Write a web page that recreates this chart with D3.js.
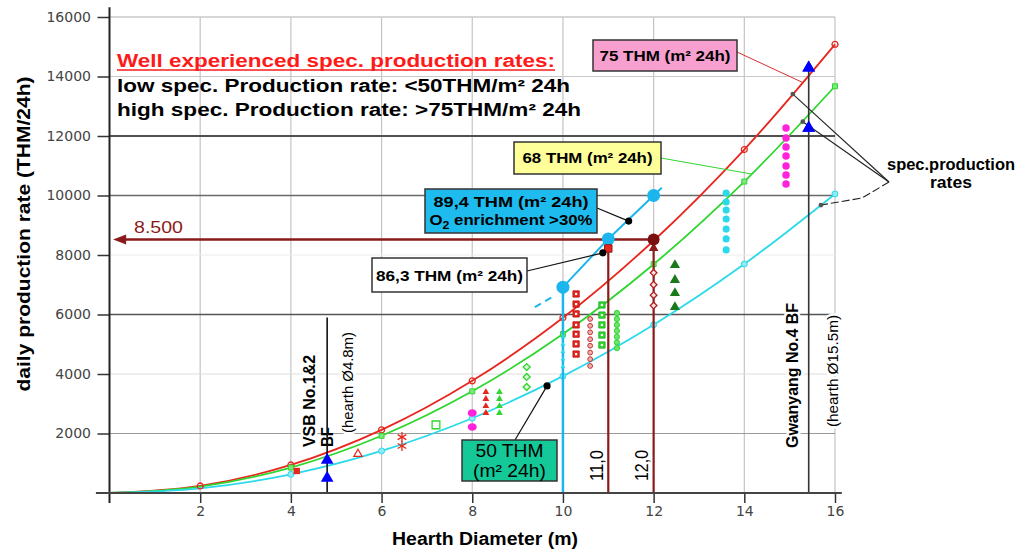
<!DOCTYPE html>
<html><head><meta charset="utf-8">
<script src="https://cdn.jsdelivr.net/npm/d3@7"></script>
<style>body{margin:0;background:#fff;} svg{display:block;}</style>
</head><body><svg id="c" width="1019" height="550"></svg>
<script>
// ---------- data ----------
const diameters = [0, 2, 4, 6, 8, 10, 12, 14, 16];
const rate75 = [0, 236, 942, 2120, 3770, 5890, 8480, 11545, 15080];
const rate68 = [0, 214, 855, 1923, 3418, 5341, 7690, 10468, 13672];
const rate50 = [0, 157, 628, 1414, 2513, 3927, 5655, 7697, 10053];
const xTicks = [2, 4, 6, 8, 10, 12, 14, 16];
const yTicks = [2000, 4000, 6000, 8000, 10000, 12000, 14000, 16000];

const o2LineX = [10, 11, 12, 12.18];
const o2LineY = [6920, 8540, 10000, 10260];
const o2DashX = [9.38, 9.8];
const o2DashY = [6250, 6620];
const o2CirclesX = [10, 11, 12];
const o2CirclesY = [6920, 8540, 10000];

const targetRate = 8520;      // 8.500 arrow
const targetDiams = [11, 12];
const vsbDiam = 4.8, vsbTop = 5900;
const gwDiam = 15.42, gwTop = 14290;

const blueTriangles = [[4.8, 1110], [4.8, 500], [15.42, 14290], [15.42, 12270]];
const redSmallSquare = [[4.13, 740]];
const redOpenTriangle = [[5.48, 1310]];
const redAsterisks = [[6.45, 1880], [6.45, 1580]];
const greenOpenSquare = [[7.2, 2290]];
const magentaBig = [[8, 2690], [8, 2220]];
const redTriX = 8.3, redTriY = [3390, 3160, 2920, 2690];
const greenTriX = 8.6, greenTriY = [3390, 3160, 2920, 2690];
const greenDiamX = 9.2, greenDiamY = [4235, 3900, 3563];
const cyanTriX = 10, cyanTriY = [5250, 5000, 4750, 4500, 4250];
const redSqX = 10.29, redSqY = [6690, 6350, 6020, 5650, 5340, 5010, 4670];
const darkRingX = 10.6, darkRingY = [5850, 5620, 5400, 5170, 4950, 4720, 4500, 4270];
const greenSqX = 10.86, greenSqY = [6320, 5980, 5650, 5310, 4975];
const greenRingX = 11.19, greenRingY = [6050, 5850, 5650, 5450, 5250, 5060, 4870];
const darkDiamX = 12, darkDiamY = [7400, 7000, 6650, 6300];
const darkGreenTriX = 12.47, darkGreenTriY = [7660, 7160, 6720, 6250];
const cyanDotX = 13.6, cyanDotY = [10080, 9780, 9510, 9210, 8870, 8540, 8170];
const magentaX = 14.92, magentaY = [12270, 11930, 11630, 11330, 10990, 10690, 10390];
const redSquare11 = [[11, 8220]];
const darkTri12 = [[12, 8230]];
const blackDots = [[11.45, 9140], [10.88, 8070], [9.65, 3600]];
const grayDots = [[15.07, 13410], [15.29, 12480], [15.69, 9680]];
const conn75 = [15.3, 13790];
const conn68 = [14.17, 10720];

// ---------- setup ----------
const svg = d3.select('#c');
const x = d3.scaleLinear().domain([0, 16]).range([109.5, 835]);
const y = d3.scaleLinear().domain([0, 16000]).range([493, 17]);
const SANS = 'Liberation Sans, Arial, sans-serif';

// grid
const gridColor = {2000:'#9a9a9a',4000:'#dddddd',6000:'#555',8000:'#ececec',10000:'#6a6a6a',12000:'#505050',14000:'#c8c8c8',16000:'#c8c8c8'};
const gridWidth = {2000:1,4000:1,6000:1.5,8000:1,10000:1.5,12000:2,14000:1.2,16000:1.5};
const grid = svg.append('g');
grid.selectAll('line.v').data(xTicks).join('line')
  .attr('x1', d => x(d)).attr('x2', d => x(d)).attr('y1', y(16000)).attr('y2', y(0))
  .attr('stroke', '#c4c4c4').attr('stroke-width', 1.2);
grid.selectAll('line.h').data(yTicks).join('line')
  .attr('x1', x(0)).attr('x2', x(16)).attr('y1', d => y(d)).attr('y2', d => y(d))
  .attr('stroke', d => gridColor[d]).attr('stroke-width', d => gridWidth[d]);

// helpers
function label(p, o) {
  const t = p.append('text')
    .attr('font-family', o.family || SANS).attr('font-size', o.size || 15)
    .attr('font-weight', o.weight || 'bold').attr('fill', o.fill || '#000')
    .attr('text-anchor', o.anchor || 'start');
  if (o.rotate) t.attr('transform', `translate(${o.x},${o.y}) rotate(-90)`);
  else t.attr('x', o.x).attr('y', o.y);
  if (o.len) t.attr('textLength', o.len).attr('lengthAdjust', 'spacingAndGlyphs');
  if (o.halo) t.attr('stroke', '#fff').attr('stroke-width', 5).attr('paint-order', 'stroke').attr('stroke-linejoin', 'round');
  t.text(o.text);
  return t;
}
function pts(list, type, size, fill, stroke, sw, rot) {
  svg.append('g').selectAll('path').data(list).join('path')
    .attr('transform', d => `translate(${x(d[0])},${y(d[1])})` + (rot ? ` rotate(${rot})` : ''))
    .attr('d', d3.symbol().type(type).size(size))
    .attr('fill', fill).attr('stroke', stroke || 'none').attr('stroke-width', sw || 1);
}
const col = (xv, ys) => ys.map(v => [xv, v]);

// rotated labels with halo (drawn early so halos cut gridlines only)
const labs = svg.append('g');
label(labs, {x: 315, y: 447, text: 'VSB No.1&2', size: 16, len: 92, rotate: true, halo: true});
label(labs, {x: 353, y: 433, text: '(hearth Ø4.8m)', size: 15, weight: 'normal', len: 101, rotate: true, halo: true});
label(labs, {x: 798, y: 448, text: 'Gwanyang No.4 BF', size: 16, len: 145, rotate: true, halo: true});
label(labs, {x: 838, y: 427, text: '(hearth Ø15.5m)', size: 15, weight: 'normal', len: 112, rotate: true, halo: true});
label(labs, {x: 603, y: 481, text: '11,0', size: 18, weight: 'normal', len: 31, rotate: true, halo: true});
label(labs, {x: 648, y: 481, text: '12,0', size: 18, weight: 'normal', len: 31, rotate: true, halo: true});

// curves
const line = d3.line().x(d => x(d[0])).y(d => y(d[1])).curve(d3.curveCatmullRom);
const series = [
  {vals: rate75, color: '#e8261e'},
  {vals: rate68, color: '#2fd62f'},
  {vals: rate50, color: '#2bd9ea'}
];
series.forEach(s => {
  svg.append('path').attr('d', line(diameters.map((d, i) => [d, s.vals[i]])))
    .attr('fill', 'none').attr('stroke', s.color).attr('stroke-width', 1.8);
});
// curve markers
pts(diameters.slice(1).map((d, i) => [d, rate75[i + 1]]), d3.symbolCircle, 28, 'none', '#e8261e', 1.3);
pts(diameters.slice(2).map((d, i) => [d, rate68[i + 2]]), d3.symbolSquare, 25, '#7be87b', '#2fd62f', 1);
pts(diameters.slice(2).map((d, i) => [d, rate50[i + 2]]), d3.symbolCircle, 28, '#8eeaf3', '#2bd9ea', 1);

// vertical reference lines
svg.append('line').attr('x1', x(vsbDiam)).attr('x2', x(vsbDiam)).attr('y1', y(vsbTop)).attr('y2', y(0))
  .attr('stroke', '#111').attr('stroke-width', 1.6);
svg.append('line').attr('x1', x(gwDiam)).attr('x2', x(gwDiam)).attr('y1', y(gwTop)).attr('y2', y(0))
  .attr('stroke', '#333').attr('stroke-width', 1.6);
label(labs, {x: 333, y: 447, text: 'BF', size: 16, len: 20, rotate: true});

// O2 line
svg.append('line').attr('x1', x(10)).attr('x2', x(10)).attr('y1', y(o2LineY[0])).attr('y2', y(0))
  .attr('stroke', '#1cb5ee').attr('stroke-width', 2.5);
const lin = d3.line().x(d => x(d[0])).y(d => y(d[1]));
svg.append('path').attr('d', lin(o2LineX.map((d, i) => [d, o2LineY[i]])))
  .attr('fill', 'none').attr('stroke', '#1cb5ee').attr('stroke-width', 2);
svg.append('path').attr('d', lin(o2DashX.map((d, i) => [d, o2DashY[i]])))
  .attr('fill', 'none').attr('stroke', '#1cb5ee').attr('stroke-width', 2).attr('stroke-dasharray', '7,5');

// dark red target lines
targetDiams.forEach(dv => {
  svg.append('line').attr('x1', x(dv)).attr('x2', x(dv)).attr('y1', y(targetRate)).attr('y2', y(0))
    .attr('stroke', '#8b1a1a').attr('stroke-width', 2.2);
});
svg.append('line').attr('x1', x(12)).attr('x2', x(0.3)).attr('y1', y(targetRate)).attr('y2', y(targetRate))
  .attr('stroke', '#8b1a1a').attr('stroke-width', 2.5);
svg.append('path')
  .attr('d', `M${x(0.08)},${y(targetRate)} l13,-5 l0,10 z`)
  .attr('fill', '#8b1a1a');
label(svg, {x: 134, y: 233, text: '8.500', size: 17, weight: 'normal', fill: '#8b1a1a', len: 49});

// scatter markers
pts(redSmallSquare, d3.symbolSquare, 40, '#e8261e');
pts(redOpenTriangle, d3.symbolTriangle, 30, 'none', '#e8261e', 1.2);
const ast = svg.append('g');
redAsterisks.forEach(p => {
  const cx = x(p[0]), cy = y(p[1]);
  [0, 60, 120].forEach(a => {
    const r = 5, ra = a * Math.PI / 180;
    ast.append('line').attr('x1', cx - r * Math.sin(ra)).attr('y1', cy - r * Math.cos(ra))
      .attr('x2', cx + r * Math.sin(ra)).attr('y2', cy + r * Math.cos(ra))
      .attr('stroke', '#e8261e').attr('stroke-width', 1.3);
  });
});
pts(greenOpenSquare, d3.symbolSquare, 60, 'none', '#2fd62f', 1.3);
svg.append('g').selectAll('ellipse').data(magentaBig).join('ellipse')
  .attr('cx', d => x(d[0])).attr('cy', d => y(d[1])).attr('rx', 4.5).attr('ry', 3.8).attr('fill', '#ff22dd');
pts(col(redTriX, redTriY), d3.symbolTriangle, 20, '#e8261e');
pts(col(greenTriX, greenTriY), d3.symbolTriangle, 20, '#2fd62f');
pts(col(greenDiamX, greenDiamY), d3.symbolSquare, 24, '#d8f8d8', '#2fd62f', 1.3, 45);
pts(col(cyanTriX, cyanTriY), d3.symbolTriangle, 10, '#2bd9ea');
pts(col(redSqX, redSqY), d3.symbolSquare, 40, '#e8261e', '#c01010', 0.8);
pts(col(redSqX, redSqY), d3.symbolSquare, 5, '#fff');
pts(col(darkRingX, darkRingY), d3.symbolCircle, 18, '#f2b0b0', '#c03030', 1);
pts(col(greenSqX, greenSqY), d3.symbolSquare, 40, '#2fd62f', '#20b020', 0.8);
pts(col(greenSqX, greenSqY), d3.symbolSquare, 5, '#fff');
pts(col(greenRingX, greenRingY), d3.symbolCircle, 22, '#6de46d', '#2fd62f', 1);
pts(col(darkDiamX, darkDiamY), d3.symbolSquare, 22, '#fbe0e0', '#b02020', 1.3, 45);
pts(col(darkGreenTriX, darkGreenTriY), d3.symbolTriangle, 45, '#1a7a1a');
pts(col(cyanDotX, cyanDotY), d3.symbolCircle, 40, '#2bd9ea');
pts(col(magentaX, magentaY), d3.symbolCircle, 44, '#ff22dd');
pts(blueTriangles, d3.symbolTriangle, 70, '#0000ff');
svg.append('g').selectAll('circle').data(o2CirclesX.map((d, i) => [d, o2CirclesY[i]])).join('circle')
  .attr('cx', d => x(d[0])).attr('cy', d => y(d[1])).attr('r', 6.5).attr('fill', '#1cb5ee');
pts(redSquare11, d3.symbolSquare, 55, '#e8261e', '#8b1a1a', 1);
pts(darkTri12, d3.symbolTriangle, 40, '#8b1a1a');
svg.append('circle').attr('cx', x(12)).attr('cy', y(targetRate)).attr('r', 6).attr('fill', '#7a1010');

// connectors
const conn = svg.append('g');
conn.append('line').attr('x1', 737).attr('y1', 52).attr('x2', x(conn75[0])).attr('y2', y(conn75[1]))
  .attr('stroke', '#d83030').attr('stroke-width', 1);
conn.append('line').attr('x1', 661).attr('y1', 158).attr('x2', x(conn68[0])).attr('y2', y(conn68[1]))
  .attr('stroke', '#2fd62f').attr('stroke-width', 1);
const boxAnchors = [[597, 208], [527, 271], [515, 440]];
blackDots.forEach((d, i) => {
  conn.append('line').attr('x1', boxAnchors[i][0]).attr('y1', boxAnchors[i][1])
    .attr('x2', x(d[0])).attr('y2', y(d[1])).attr('stroke', '#111').attr('stroke-width', 1.2);
});
pts(blackDots, d3.symbolCircle, 40, '#000');
const apex = [889, 182];
conn.append('line').attr('x1', apex[0]).attr('y1', apex[1]).attr('x2', x(grayDots[0][0])).attr('y2', y(grayDots[0][1]))
  .attr('stroke', '#222').attr('stroke-width', 1.1);
conn.append('line').attr('x1', apex[0]).attr('y1', apex[1]).attr('x2', x(grayDots[1][0])).attr('y2', y(grayDots[1][1]))
  .attr('stroke', '#222').attr('stroke-width', 1.1);
conn.append('path').attr('d', `M${apex[0]},${apex[1]} L862,198 L${x(grayDots[2][0])},${y(grayDots[2][1])}`)
  .attr('fill', 'none').attr('stroke', '#222').attr('stroke-width', 1.1).attr('stroke-dasharray', '8,3');
pts(grayDots, d3.symbolCircle, 18, '#555');
// re-draw upper blue triangles on top of connector lines
pts(blueTriangles.slice(2), d3.symbolTriangle, 70, '#0000ff');

// boxes
function box(bx, by, w, h, fill, lines) {
  const g = svg.append('g');
  g.append('rect').attr('x', bx).attr('y', by).attr('width', w).attr('height', h)
    .attr('fill', fill).attr('stroke', '#333').attr('stroke-width', 1.5);
  lines.forEach(l => label(g, Object.assign({anchor: 'middle', x: bx + w / 2}, l)));
  return g;
}
box(593, 40, 144, 31, '#f7a0cf', [{y: 60.5, text: '75 THM (m² 24h)', len: 131}]);
box(514, 142, 147, 32, '#ffff99', [{y: 163, text: '68 THM (m² 24h)', len: 130}]);
const b89 = box(425, 189, 172, 44, '#1ebbef', [{y: 207, text: '89,4 THM (m² 24h)', len: 155}]);
const t2 = b89.append('text').attr('x', 511).attr('y', 225).attr('text-anchor', 'middle')
  .attr('font-family', SANS).attr('font-size', 15).attr('font-weight', 'bold')
  .attr('textLength', 163).attr('lengthAdjust', 'spacingAndGlyphs');
t2.append('tspan').text('O');
t2.append('tspan').attr('font-size', 11).attr('dy', 4).text('2');
t2.append('tspan').attr('dy', -4).text(' enrichment >30%');
box(372, 258, 155, 34, '#ffffff', [{y: 281, text: '86,3 THM (m² 24h)', len: 147}]);
box(462, 440, 95, 41, '#14c898', [
  {y: 457, text: '50 THM', weight: 'normal', size: 18, len: 68},
  {y: 477, text: '(m² 24h)', weight: 'normal', size: 18, len: 73}
]);

// headline text
label(svg, {x: 117, y: 67, text: 'Well experienced spec. production rates:', size: 18, fill: '#ff1a1a', len: 438});
svg.append('line').attr('x1', 117).attr('x2', 555).attr('y1', 70).attr('y2', 70).attr('stroke', '#ff1a1a').attr('stroke-width', 1.6);
label(svg, {x: 117, y: 92, text: 'low spec. Production rate: <50THM/m² 24h', size: 18, len: 453});
label(svg, {x: 117, y: 116, text: 'high spec. Production rate: >75THM/m² 24h', size: 18, len: 464});
label(svg, {x: 951, y: 170, text: 'spec.production', size: 16, anchor: 'middle', len: 128});
label(svg, {x: 951, y: 188, text: 'rates', size: 16, anchor: 'middle', len: 42});

// axes
const xAxis = svg.append('g').attr('transform', `translate(0,${y(0)})`)
  .call(d3.axisBottom(x).tickValues(xTicks).tickSize(10).tickPadding(3).tickFormat(d3.format('d')));
const yAxis = svg.append('g').attr('transform', `translate(${x(0)},0)`)
  .call(d3.axisLeft(y).tickValues(yTicks).tickSize(12).tickPadding(6.5).tickFormat(d3.format('d')));
[xAxis, yAxis].forEach(a => {
  a.select('.domain').remove();
  a.selectAll('.tick line').attr('stroke', '#333').attr('stroke-width', 1.5);
  a.selectAll('.tick text').attr('font-family', 'DejaVu Sans, sans-serif').attr('font-size', 14).attr('fill', '#444');
});
svg.append('line').attr('x1', x(0)).attr('x2', x(0)).attr('y1', y(16330)).attr('y2', y(-340))
  .attr('stroke', '#222').attr('stroke-width', 2);
svg.append('line').attr('x1', x(-0.3)).attr('x2', x(16.15)).attr('y1', y(0)).attr('y2', y(0))
  .attr('stroke', '#444').attr('stroke-width', 2);

// axis titles
label(svg, {x: 30, y: 234, text: 'daily production rate (THM/24h)', size: 18, anchor: 'middle', len: 315, rotate: true});
label(svg, {x: 485, y: 545, text: 'Hearth Diameter (m)', size: 18, anchor: 'middle', len: 186});
</script></body></html>
